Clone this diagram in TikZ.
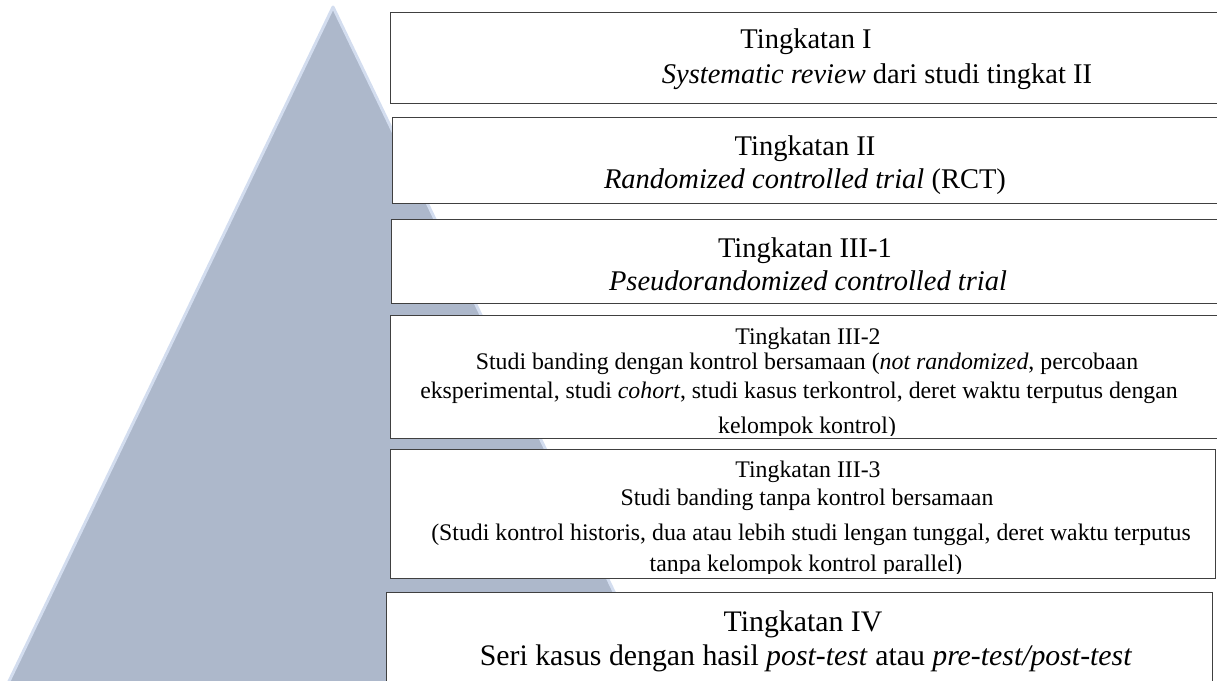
\documentclass[tikz,border=0pt]{standalone}
\usepackage{fontspec}
\setmainfont{Liberation Serif}
\definecolor{pyrfill}{HTML}{ADB8CB}
\definecolor{pyredge}{HTML}{D3DDEF}
\definecolor{boxline}{HTML}{404040}
\tikzset{
  levelbox/.style={draw=boxline, line width=1.2pt, fill=white, rectangle, anchor=north west, inner sep=0pt},
  bigtxt/.style={anchor=base, inner sep=0pt, font=\fontsize{28.5}{33}\selectfont},
  widetxt/.style={anchor=base, inner sep=0pt, font=\fontsize{29.8}{34}\selectfont},
  smalltxt/.style={anchor=base, inner sep=0pt, font=\fontsize{23.8}{27}\selectfont}
}
\begin{document}
\begin{tikzpicture}[x=1pt,y=-1pt]
\useasboundingbox (0,0) rectangle (1217,680);

% pyramid behind the level boxes
\begin{scope}
  \clip (0,0) rectangle (1217,680);
  \draw[draw=pyredge, line width=3pt, fill=pyrfill, line join=round]
    (333,7) -- (666,700) -- (0,700) -- cycle;
\end{scope}

% level boxes
\node[levelbox, minimum width=835pt, minimum height=91pt]  (b1) at (390,12)  {};
\node[levelbox, minimum width=833pt, minimum height=86pt]  (b2) at (392,117) {};
\node[levelbox, minimum width=834pt, minimum height=84pt]  (b3) at (391,219) {};
\node[levelbox, minimum width=835pt, minimum height=123pt] (b4) at (390,315) {};
\node[levelbox, minimum width=825pt, minimum height=129pt] (b5) at (390,449) {};
\node[levelbox, minimum width=826pt, minimum height=100pt] (b6) at (386,592) {};

% level I
\node[bigtxt] (t1a) at (806,48) {Tingkatan I};
\node[bigtxt] (t1b) at (877,83) {\textit{Systematic review} dari studi tingkat II};

% level II
\node[bigtxt] (t2a) at (805,155) {Tingkatan II};
\node[bigtxt] (t2b) at (805,188) {\textit{Randomized controlled trial} (RCT)};

% level III-1
\node[bigtxt] (t3a) at (805,257) {Tingkatan III-1};
\node[bigtxt] (t3b) at (808,290) {\textit{Pseudorandomized controlled trial}};

% level III-2 (last line cut off by the text frame)
\begin{scope}
  \clip (391,316) rectangle (1217,435);
  \node[smalltxt] (t4a) at (808,344) {Tingkatan III-2};
  \node[smalltxt] (t4b) at (807,369) {Studi banding dengan kontrol bersamaan (\textit{not randomized}, percobaan};
  \node[smalltxt] (t4c) at (799,398) {eksperimental, studi \textit{cohort}, studi kasus terkontrol, deret waktu terputus dengan};
  \node[smalltxt] (t4d) at (807,433) {kelompok kontrol)};
\end{scope}

% level III-3 (last line cut off by the text frame)
\begin{scope}
  \clip (391,450) rectangle (1214,573);
  \node[smalltxt] (t5a) at (808,477) {Tingkatan III-3};
  \node[smalltxt] (t5b) at (807,505) {Studi banding tanpa kontrol bersamaan};
  \node[smalltxt] (t5c) at (811,540) {(Studi kontrol historis, dua atau lebih studi lengan tunggal, deret waktu terputus};
  \node[smalltxt] (t5d) at (806,571) {tanpa kelompok kontrol parallel)};
\end{scope}

% level IV
\node[widetxt] (t6a) at (803,631) {Tingkatan IV};
\node[widetxt] (t6b) at (806,665) {Seri kasus dengan hasil \textit{post-test} atau \textit{pre-test/post-test}};
\end{tikzpicture}
\end{document}
